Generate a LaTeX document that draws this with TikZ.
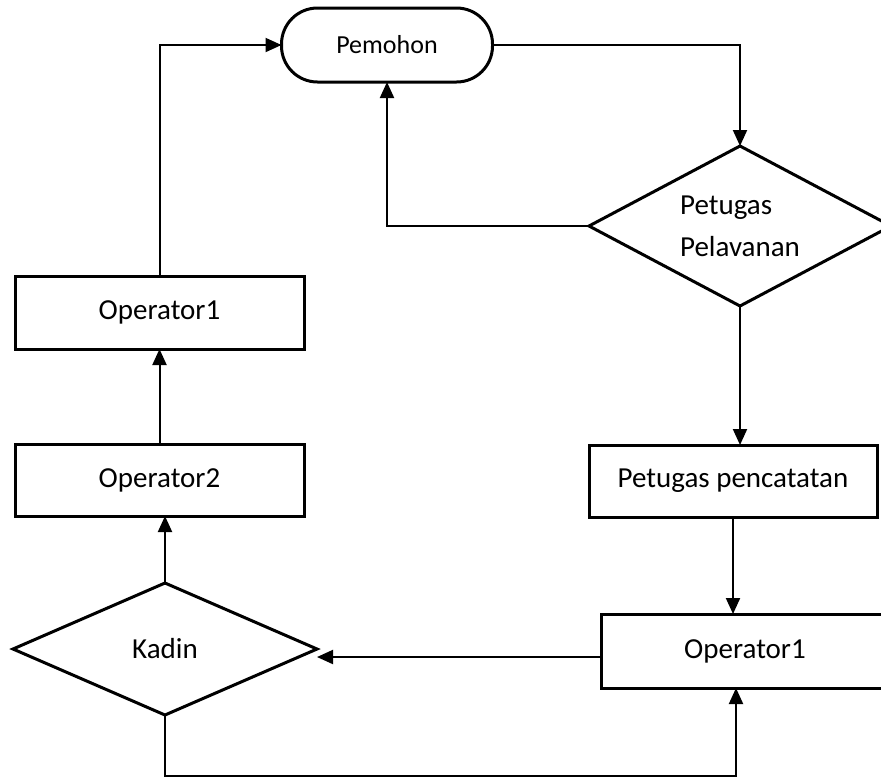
\documentclass[tikz,border=0pt]{standalone}
\usepackage{fontspec}
\setmainfont{Carlito}
\usepackage{tikz}
\usetikzlibrary{arrows.meta,shapes,positioning}
\tikzstyle{arrow} = [line width=1pt,-{Triangle[width=7pt,length=8pt]}]
\tikzstyle{box} = [rectangle, draw, line width=1.5pt, inner sep=0pt, outer sep=0pt, text centered, font=\fontsize{14.5}{21}\selectfont]
\tikzstyle{decision} = [diamond, draw, line width=1.5pt, inner sep=0pt, outer sep=0pt, font=\fontsize{14.5}{21}\selectfont]

\begin{document}
\begin{tikzpicture}[x=0.5pt, y=-0.5pt]
\clip (0,0) rectangle (881,777);

% Start
\node[box, rounded corners=18pt, minimum width=105.5pt, minimum height=37pt, font=\fontsize{13}{16}\selectfont] (pemohon) at (387,45) {Pemohon};

% Right column
\node[decision, shape aspect=1.9, minimum width=151pt, minimum height=80pt, align=left] (pelayanan) at (740,226) {Petugas\\Pelavanan};
\node[box, minimum width=144pt, minimum height=36pt] (pencatatan) at (733,481) {Petugas pencatatan};
\node[box, minimum width=144pt, minimum height=37pt] (opsatu) at (745,651) {Operator1};

% Left column
\node[decision, shape aspect=2.3, minimum width=152pt, minimum height=66pt] (kadin) at (165,649) {Kadin};
\node[box, minimum width=144.5pt, minimum height=36pt] (opdua) at (159.5,480) {Operator2};
\node[box, minimum width=144.5pt, minimum height=36.5pt] (opkiri) at (159.5,312.5) {Operator1};

\coordinate (bawah) at (736,776);
\coordinate (kiri) at ([yshift=-3pt]opsatu.west);

% Arrows
\draw[arrow] (opkiri.north) |- (pemohon.west);
\draw[arrow] (pemohon.east) -| (pelayanan.north);
\draw[arrow] (pelayanan.west) -| (pemohon.south);
\draw[arrow] (pelayanan.south) -- (pelayanan.south |- pencatatan.north);
\draw[arrow] (pencatatan.south) -- (pencatatan.south |- opsatu.north);
\draw[arrow] (kiri) -- (kiri -| kadin.east);
\draw[arrow] (kadin.south) |- (bawah) -- (bawah |- opsatu.south);
\draw[arrow] (kadin.north) -- (kadin.north |- opdua.south);
\draw[arrow] (opdua.north) -- (opkiri.south);
\end{tikzpicture}
\end{document}
